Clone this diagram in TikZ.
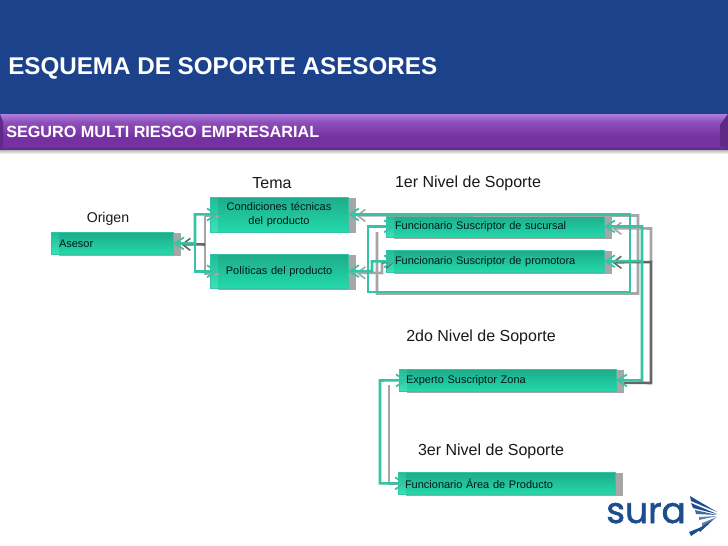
\documentclass[tikz,border=0pt]{standalone}
\usepackage{fontspec}
\setmainfont{Liberation Sans}
\newfontfamily\logofont[FakeBold=1.6]{Poppins}
\usetikzlibrary{calc,shadows,arrows.meta}
\definecolor{headblue}{HTML}{1B428A}
\definecolor{linkteal}{HTML}{34C4A4}
\definecolor{shgray}{HTML}{A6A6A6}
\definecolor{shdark}{HTML}{666666}
\definecolor{logoblue}{HTML}{1C4E8E}
\definecolor{stripT}{HTML}{20BC98}
\definecolor{stripB}{HTML}{3CE2B8}
\definecolor{boxT}{HTML}{1EAB8A}
\definecolor{boxB}{HTML}{23DAAB}
\definecolor{pA}{HTML}{B07EDC}
\definecolor{pB}{HTML}{8D4FBA}
\definecolor{pC}{HTML}{7531A1}
\definecolor{pD}{HTML}{5F2A85}
\tikzset{
  x=0.75pt,y=-0.75pt,
  stepbox/.style={rectangle,anchor=north west,outer sep=0pt,inner sep=0pt,draw=linkteal,line width=0.4pt,
    top color=stripT,bottom color=stripB,
    general shadow={fill=shgray,shadow xshift=6pt,shadow yshift=-1pt},
    font=\fontsize{8.25}{10.5}\selectfont,text=black!80!teal,
    path picture={\shade[top color=boxT,bottom color=boxB]
      ($(path picture bounding box.south west)+(6pt,0pt)$) rectangle (path picture bounding box.north east);}},
  ltext/.style={font=\fontsize{12}{14}\selectfont,text=black!90},
  barbtip/.tip={Straight Barb[length=7pt,width=9pt,line width=1.3pt]},
  graytip/.tip={Straight Barb[length=6pt,width=9pt,line width=1.2pt]},
  link/.style={draw=linkteal,line width=1.9pt,line cap=butt,line join=miter},
  tip/.style={barbtip-barbtip},
  tipstart/.style={barbtip-},
  tipend/.style={-barbtip},
  shlink/.style={draw=shgray,line width=1.9pt},
  shdlink/.style={draw=shdark,line width=1.9pt},
  shtip/.style={graytip-},
  shtipend/.style={-graytip},
  heada/.style={anchor=west,inner sep=0pt,text=white,font=\bfseries\fontsize{18.15}{20}\selectfont},
  headb/.style={anchor=west,inner sep=0pt,text=white,font=\bfseries\fontsize{12.15}{14}\selectfont},
}
\begin{document}
\begin{tikzpicture}
\useasboundingbox (0,0) rectangle (728,546);
% background bands
\fill[white] (0,0) rectangle (728,546);
\fill[headblue] (0,0) rectangle (728,114);
\shade[top color=black!35,bottom color=white] (0,149) rectangle (728,154);
\shade[top color=pA,bottom color=pB] (0,114) rectangle (728,122);
\shade[top color=pB,bottom color=pC] (0,122) rectangle (728,137);
\fill[pC] (0,137) rectangle (728,146);
\shade[top color=pC,bottom color=pD] (0,146) rectangle (728,149);
\fill[pD] (0,114) -- (3,122) -- (3,146) -- (0,149) -- cycle;
\fill[pD] (728,114) -- (720,125) -- (720,146) -- (728,149) -- cycle;
\node[heada] (title) at (8,68.5) {ESQUEMA DE SOPORTE ASESORES};
\node[headb] (sub) at (6,132) {SEGURO MULTI RIESGO EMPRESARIAL};
% column labels
\node[ltext,font=\fontsize{10.6}{13}\selectfont] (lOrigen) at (108,218.5) {Origen};
\node[ltext] (lTema) at (272,183.5) {Tema};
\node[ltext] (lN1) at (468,183.5) {1er Nivel de Soporte};
\node[ltext] (lN2) at (481,337.5) {2do Nivel de Soporte};
\node[ltext] (lN3) at (491,451.5) {3er Nivel de Soporte};
% boxes
\node[stepbox,minimum width=91.5pt,minimum height=16.9pt,text width=79.5pt,align=left] (asesor) at (51,232) {Asesor};
\node[stepbox,minimum width=103.5pt,minimum height=26.2pt,text width=103.5pt,align=center] (cond) at (210,197) {Condiciones técnicas\\del producto};
\node[stepbox,minimum width=103.5pt,minimum height=25.9pt,text width=103.5pt,align=center] (pol) at (210,254) {Políticas del producto};
\node[stepbox,minimum width=163.5pt,minimum height=17pt,text width=150pt,align=left] (suc) at (386,215) {Funcionario Suscriptor de sucursal};
\node[stepbox,minimum width=163.5pt,minimum height=17pt,text width=150pt,align=left] (pro) at (386,250) {Funcionario Suscriptor de promotora};
\node[stepbox,minimum width=162.75pt,minimum height=17pt,text width=152.25pt,align=left] (exp) at (399,369) {Experto Suscriptor Zona};
\node[stepbox,minimum width=162.75pt,minimum height=17pt,text width=152.25pt,align=left] (area) at (398,472) {Funcionario Área de Producto};
% ports and corners
\coordinate (condIn) at ($(cond.west)+(8,0)$);
\coordinate (polIn) at ($(pol.west)+(8,0)$);
\coordinate (sucIn) at ($(suc.west)+(9,0)$);
\coordinate (proIn) at ($(pro.west)+(9,0)$);
\coordinate (expIn) at ($(exp.west)+(8,0)$);
\coordinate (areaIn) at ($(area.west)+(8,0)$);
\coordinate (j1) at (195,243.5);
\coordinate (r1) at (630,292);
\coordinate (r2) at (368,292);
\coordinate (p1) at (372,271);
\coordinate (v1) at (642,226.5);
\coordinate (v2) at (642,261);
\coordinate (v3) at (642,380.5);
\coordinate (w1) at (380,380.5);
% shadows of the connectors
\draw[shlink] (205,216) -- (219,216);
\draw[shlink] (205,274) -- (219,274);
\draw[shlink] (205,216) -- (205,275);
\draw[shdlink,shtip] ($(asesor.east)+(8,1)$) -- (205,244.5);
\draw[shlink,shtip] ($(cond.east)+(8,1)$) -- (638,215.5) -- (638,293.5) -- (377,293.5) -- (377,232);
\draw[shlink,shtip] ($(pol.east)+(8,1.5)$) -- (382,273) -- (382,262);
\draw[shdlink,shtipend] (382,262.5) -- (proIn);
\draw[shlink,shtip] ($(suc.east)+(8,2)$) -- (651,228.5) -- (651,262);
\draw[shdlink,shtip] ($(pro.east)+(8,1)$) -- (651,262) -- (651,383) -- ($(exp.east)+(8,2.5)$);
\draw[shlink] (389,385) -- (389,484) -- (404,484);
% connectors
\draw[link,tip] (asesor.east) -- (j1) |- (condIn);
\draw[link,tipend] (j1) |- (polIn);
\draw[link,tip] (cond.east) -| (r1) -- (r2) |- (sucIn);
\draw[link,tip] (pol.east) -- (p1) |- (proIn);
\draw[link,tip] (suc.east) -- (v1) -- (v3) -- (exp.east);
\draw[link,tipstart] (pro.east) -- (v2);
\draw[link,tip] (expIn) -- (w1) |- (areaIn);
% logo
\node[anchor=base west,inner sep=0pt,text=logoblue,font=\logofont\fontsize{27}{27}\selectfont] (logo) at (606,523) {sura};
\fill[logoblue] (690,496) -- (717,512) -- (691,501) -- cycle;
\fill[logoblue] (691,503) -- (717,514) -- (693,508) -- cycle;
\fill[logoblue!85!white] (695,510) -- (717,515) -- (696,514) -- cycle;
\fill[logoblue!70!white] (699,517) -- (717,516) -- (699,520) -- cycle;
\fill[logoblue!70!white] (702,523) -- (717,517) -- (702,527) -- cycle;
\fill[logoblue] (698,529) -- (714,519) -- (700,532) -- cycle;
\fill[logoblue] (689,532) -- (709,524) -- (691,536) -- cycle;
\end{tikzpicture}
\end{document}
